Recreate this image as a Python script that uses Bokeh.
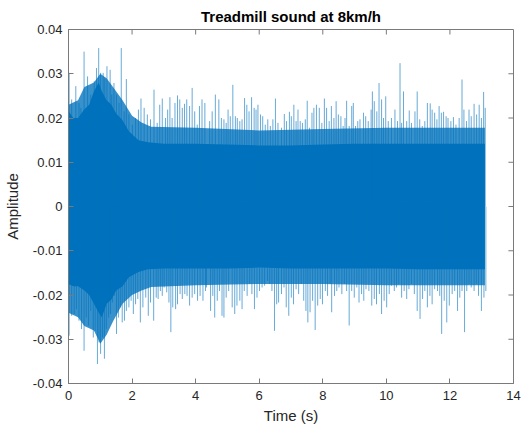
from bokeh.plotting import figure
from bokeh.models import Range1d, FixedTicker
from bokeh.embed import file_html
from bokeh.resources import INLINE

# ---- data (time in s, amplitude) ----
# upper spike tips
top_t = [0.02, 0.10, 0.23, 0.33, 0.39, 0.49, 0.60, 0.70, 0.81, 0.88,
         0.95, 1.01, 1.09, 1.14, 1.21, 1.31, 1.36, 1.43, 1.51, 1.59,
         1.66, 1.75, 1.82, 1.90, 2.01, 2.11, 2.20, 2.28, 2.38, 2.48,
         2.58, 2.69, 2.79, 2.87, 2.95, 3.05, 3.12, 3.19, 3.26, 3.35,
         3.43, 3.50, 3.58, 3.65, 3.72, 3.81, 3.89, 3.97, 4.05, 4.12,
         4.20, 4.29,
         4.44, 4.52, 4.62, 4.73, 4.81, 4.89, 4.96, 5.02, 5.09, 5.17,
         5.25, 5.31, 5.39, 5.46, 5.54, 5.61, 5.68, 5.76, 5.84, 5.90,
         5.96, 6.04, 6.11, 6.19, 6.27, 6.35, 6.43, 6.51, 6.59, 6.70,
         6.79, 6.86, 6.95, 7.01, 7.09, 7.16, 7.22, 7.29, 7.36, 7.45,
         7.51, 7.58, 7.66, 7.72, 7.80, 7.89, 7.97, 8.05, 8.12, 8.20,
         8.27, 8.35, 8.42, 8.49, 8.57, 8.64, 8.70,
         8.75, 8.83, 8.91, 8.96, 9.03, 9.10, 9.17, 9.28, 9.35, 9.43,
         9.52, 9.56, 9.62, 9.70, 9.77, 9.85, 9.91, 9.98, 10.06, 10.16,
         10.27, 10.35, 10.43, 10.48, 10.54, 10.64, 10.72, 10.79, 10.90, 10.97,
         11.05, 11.13, 11.21, 11.29, 11.38, 11.44, 11.52, 11.59, 11.66, 11.73,
         11.80, 11.88, 11.94, 12.03, 12.11, 12.19, 12.29, 12.38, 12.44, 12.52,
         12.60, 12.67, 12.76, 12.84, 12.92, 12.99, 13.06, 13.11]
top_amp = [0.0302, 0.0242, 0.0272, 0.0234, 0.0223, 0.0350, 0.0294, 0.0253, 0.0283, 0.0313,
           0.0358, 0.0302, 0.0302, 0.0290, 0.0317, 0.0309, 0.0253, 0.0279, 0.0253, 0.0234,
           0.0358, 0.0215, 0.0288, 0.0208, 0.0185, 0.0200, 0.0219, 0.0244, 0.0223, 0.0208,
           0.0197, 0.0264, 0.0189, 0.0230, 0.0244, 0.0200, 0.0219, 0.0247, 0.0200, 0.0234,
           0.0251, 0.0242, 0.0223, 0.0232, 0.0242, 0.0227, 0.0268, 0.0215, 0.0185, 0.0227,
           0.0242, 0.0234,
           0.0193, 0.0215, 0.0253, 0.0242, 0.0200, 0.0197, 0.0189, 0.0219, 0.0204, 0.0275,
           0.0204, 0.0200, 0.0193, 0.0197, 0.0245, 0.0230, 0.0215, 0.0247, 0.0223, 0.0219,
           0.0230, 0.0208, 0.0204, 0.0185, 0.0197, 0.0182, 0.0197, 0.0244, 0.0189, 0.0178,
           0.0209, 0.0193, 0.0214, 0.0204, 0.0230, 0.0193, 0.0219, 0.0193, 0.0189, 0.0197,
           0.0239, 0.0178, 0.0212, 0.0223, 0.0230, 0.0223, 0.0189, 0.0244, 0.0223, 0.0193,
           0.0227, 0.0200, 0.0238, 0.0208, 0.0204, 0.0182, 0.0200,
           0.0239, 0.0182, 0.0227, 0.0234, 0.0182, 0.0193, 0.0197, 0.0212, 0.0204, 0.0193,
           0.0219, 0.0260, 0.0238, 0.0215, 0.0279, 0.0242, 0.0200, 0.0249, 0.0193, 0.0200,
           0.0219, 0.0193, 0.0324, 0.0189, 0.0260, 0.0193, 0.0217, 0.0189, 0.0215, 0.0260,
           0.0197, 0.0182, 0.0193, 0.0234, 0.0233, 0.0219, 0.0212, 0.0197, 0.0227, 0.0212,
           0.0214, 0.0204, 0.0200, 0.0193, 0.0202, 0.0185, 0.0200, 0.0287, 0.0219, 0.0193,
           0.0219, 0.0204, 0.0232, 0.0208, 0.0230, 0.0200, 0.0259, 0.0223]

# lower spike tips
bot_t = [0.02, 0.10, 0.18, 0.25, 0.33, 0.41, 0.49, 0.56, 0.63, 0.70,
         0.78, 0.84, 0.91, 0.96, 1.01, 1.07, 1.13, 1.19, 1.26, 1.32,
         1.38, 1.44, 1.51, 1.57, 1.63, 1.69, 1.76, 1.82, 1.90, 1.97,
         2.04, 2.11, 2.18, 2.26, 2.34, 2.43, 2.51, 2.58, 2.68, 2.76,
         2.82, 2.89, 2.95, 3.01, 3.09, 3.16, 3.22, 3.28, 3.37, 3.43,
         3.51, 3.58, 3.66, 3.73, 3.81, 3.89, 3.97, 4.06, 4.14, 4.23,
         4.31,
         4.34, 4.47, 4.54, 4.60, 4.68, 4.75, 4.83, 4.89, 4.96, 5.04,
         5.15, 5.23, 5.30, 5.39, 5.46, 5.53, 5.62, 5.70, 5.77, 5.85,
         5.93, 6.01, 6.09, 6.17, 6.26, 6.33, 6.40, 6.48, 6.55, 6.61,
         6.70, 6.78, 6.85, 6.93, 7.01, 7.08, 7.16, 7.24, 7.32, 7.40,
         7.47, 7.53, 7.60, 7.68, 7.76, 7.84, 7.92, 7.99, 8.08, 8.15,
         8.23, 8.28, 8.37, 8.44, 8.51, 8.60, 8.68,
         8.75, 8.83, 8.91, 8.99, 9.07, 9.14, 9.22, 9.29, 9.36, 9.45,
         9.54, 9.62, 9.69, 9.78, 9.85, 9.93, 10.01, 10.09, 10.16, 10.25,
         10.32, 10.39, 10.48, 10.56, 10.64, 10.71, 10.79, 10.88, 10.97, 11.06,
         11.14, 11.21, 11.29, 11.37, 11.44, 11.52, 11.61, 11.68, 11.74, 11.82,
         11.90, 11.98, 12.07, 12.15, 12.24, 12.31, 12.38, 12.46, 12.53, 12.60,
         12.67, 12.76, 12.83, 12.90, 12.99, 13.07, 13.13]
bot_amp = [-0.0292, -0.0247, -0.0243, -0.0232, -0.0258, -0.0277, -0.0326, -0.0251, -0.0269, -0.0236,
           -0.0296, -0.0281, -0.0356, -0.0307, -0.0333, -0.0296, -0.0344, -0.0277, -0.0251, -0.0243,
           -0.0217, -0.0202, -0.0288, -0.0251, -0.0228, -0.0262, -0.0258, -0.0236, -0.0228, -0.0213,
           -0.0243, -0.0221, -0.0209, -0.0262, -0.0228, -0.0206, -0.0247, -0.0217, -0.0258, -0.0206,
           -0.0209, -0.0191, -0.0202, -0.0183, -0.0194, -0.0217, -0.0284, -0.0228, -0.0232, -0.0221,
           -0.0198, -0.0209, -0.0198, -0.0202, -0.0224, -0.0206, -0.0198, -0.0213, -0.0202, -0.0213,
           -0.0191,
           -0.0183, -0.0236, -0.0202, -0.0251, -0.0213, -0.0191, -0.0247, -0.0251, -0.0206, -0.0191,
           -0.0228, -0.0243, -0.0224, -0.0213, -0.0232, -0.0191, -0.0202, -0.0175, -0.0198, -0.0232,
           -0.0206, -0.0191, -0.0183, -0.0179, -0.0168, -0.0175, -0.0191, -0.0281, -0.0221, -0.0217,
           -0.0198, -0.0183, -0.0228, -0.0247, -0.0206, -0.0221, -0.0187, -0.0198, -0.0175, -0.0213,
           -0.0236, -0.0262, -0.0239, -0.0213, -0.0279, -0.0224, -0.0209, -0.0221, -0.0191, -0.0202,
           -0.0175, -0.0239, -0.0202, -0.0191, -0.0183, -0.0198, -0.0175,
           -0.0191, -0.0269, -0.0191, -0.0206, -0.0183, -0.0217, -0.0198, -0.0213, -0.0187, -0.0191,
           -0.0224, -0.0209, -0.0221, -0.0198, -0.0243, -0.0213, -0.0228, -0.0198, -0.0179, -0.0191,
           -0.0183, -0.0175, -0.0206, -0.0191, -0.0209, -0.0187, -0.0175, -0.0198, -0.0236, -0.0254,
           -0.0209, -0.0191, -0.0228, -0.0202, -0.0221, -0.0187, -0.0191, -0.0202, -0.0288, -0.0213,
           -0.0262, -0.0224, -0.0198, -0.0191, -0.0236, -0.0206, -0.0191, -0.0284, -0.0191, -0.0175,
           -0.0183, -0.0191, -0.0175, -0.0202, -0.0236, -0.0206, -0.0191]

# solid core of the waveform
core_t = [0.0, 0.15, 0.3, 0.5, 0.65, 0.8, 0.95, 1.05, 1.2, 1.35, 1.5, 1.7, 1.9,
          2.2, 2.5, 3.0, 4.0, 5.0, 6.0, 7.0, 8.0, 9.0, 10.0, 11.0, 12.0, 13.1]
core_hi = [0.0215, 0.020, 0.020, 0.022, 0.023, 0.026, 0.028, 0.026, 0.024, 0.023, 0.021, 0.0195, 0.017,
           0.015, 0.0145, 0.0142, 0.0142, 0.014, 0.0138, 0.0138, 0.014, 0.0142, 0.0142, 0.0142, 0.0142, 0.0142]
core_lo = [-0.0175, -0.018, -0.018, -0.019, -0.020, -0.022, -0.024, -0.025, -0.022, -0.021, -0.019, -0.018, -0.016,
           -0.0148, -0.0142, -0.014, -0.014, -0.014, -0.0138, -0.014, -0.014, -0.014, -0.014, -0.0142, -0.0142, -0.0142]

# partly filled (fuzzy) zone around the core
fuzz_t = [0.0, 0.3, 0.5, 0.8, 1.0, 1.2, 1.4, 1.7, 2.0, 2.3, 2.6, 4.0, 6.0, 8.0, 10.0, 12.0, 13.1]
fuzz_hi = [0.023, 0.024, 0.027, 0.028, 0.030, 0.029, 0.027, 0.024, 0.0205, 0.019, 0.018, 0.0178, 0.0172,
           0.0175, 0.0178, 0.0178, 0.0178]
fuzz_lo = [-0.024, -0.025, -0.027, -0.028, -0.031, -0.029, -0.026, -0.022, -0.020, -0.019, -0.0182, -0.0178,
           -0.0175, -0.0175, -0.0178, -0.0178, -0.0178]

x_ticks = [0, 2, 4, 6, 8, 10, 12, 14]
y_ticks = [-0.04, -0.03, -0.02, -0.01, 0, 0.01, 0.02, 0.03, 0.04]
y_labels = ["-0.04", "-0.03", "-0.02", "-0.01", "0", "0.01", "0.02", "0.03", "0.04"]

BLUE = "#0072BD"
TXT = "#262626"
AX = "#7a7a7a"
FONT = "Liberation Sans"
TICK_DX = 0.16      # inward tick length on the right edge (about 5 px)
TICK_DY = 0.00113   # inward tick length on the top edge (about 5 px)

X0, X1 = 0, 14
Y0, Y1 = -0.04, 0.04

p = figure(width=526, height=428, x_range=Range1d(X0, X1), y_range=Range1d(Y0, Y1),
           output_backend="svg", toolbar_location=None,
           min_border_left=67, min_border_right=13, min_border_top=28, min_border_bottom=45)
p.xgrid.visible = False
p.ygrid.visible = False
p.outline_line_color = AX
p.background_fill_color = "white"
p.border_fill_color = "white"

p.title.text = "Treadmill sound at 8km/h"
p.title.align = "center"
p.title.text_font = FONT
p.title.text_font_size = "15px"
p.title.text_font_style = "bold"
p.title.text_color = "#000000"

p.varea(x=fuzz_t, y1=fuzz_lo, y2=fuzz_hi, fill_color=BLUE, fill_alpha=0.78)
p.varea(x=core_t, y1=core_lo, y2=core_hi, fill_color=BLUE)
p.segment(x0=top_t, y0=[0] * len(top_t), x1=top_t, y1=top_amp, line_color=BLUE, line_width=1, line_alpha=0.6)
p.segment(x0=bot_t, y0=[0] * len(bot_t), x1=bot_t, y1=bot_amp, line_color=BLUE, line_width=1, line_alpha=0.6)

# mirror ticks (MATLAB box) on top and right edges
inner_x = x_ticks[1:-1]
inner_y = y_ticks[1:-1]
p.segment(x0=inner_x, y0=[Y1] * len(inner_x), x1=inner_x, y1=[Y1 - TICK_DY] * len(inner_x),
          line_color=AX, line_width=1)
p.segment(x0=[X1] * len(inner_y), y0=inner_y, x1=[X1 - TICK_DX] * len(inner_y), y1=inner_y,
          line_color=AX, line_width=1)

xt = FixedTicker(ticks=x_ticks)
yt = FixedTicker(ticks=y_ticks)


def style(ax):
    ax.axis_line_color = AX
    ax.major_tick_line_color = AX
    ax.major_tick_in = 5
    ax.major_tick_out = 0
    ax.minor_tick_line_color = None
    ax.major_label_text_font = FONT
    ax.major_label_text_color = TXT
    ax.major_label_text_font_size = "13px"
    ax.axis_label_text_font = FONT
    ax.axis_label_text_font_size = "15px"
    ax.axis_label_text_font_style = "normal"
    ax.axis_label_text_color = TXT


xa = p.xaxis[0]
xa.ticker = xt
xa.axis_label = "Time (s)"
style(xa)
xa.major_label_standoff = 7
xa.axis_label_standoff = 4

ya = p.yaxis[0]
ya.ticker = yt
ya.major_label_overrides = {v: s for v, s in zip(y_ticks, y_labels)}
ya.axis_label = "Amplitude"
style(ya)
ya.major_label_standoff = 6
ya.axis_label_standoff = 9

open("out.html", "w").write(file_html(p, INLINE))
